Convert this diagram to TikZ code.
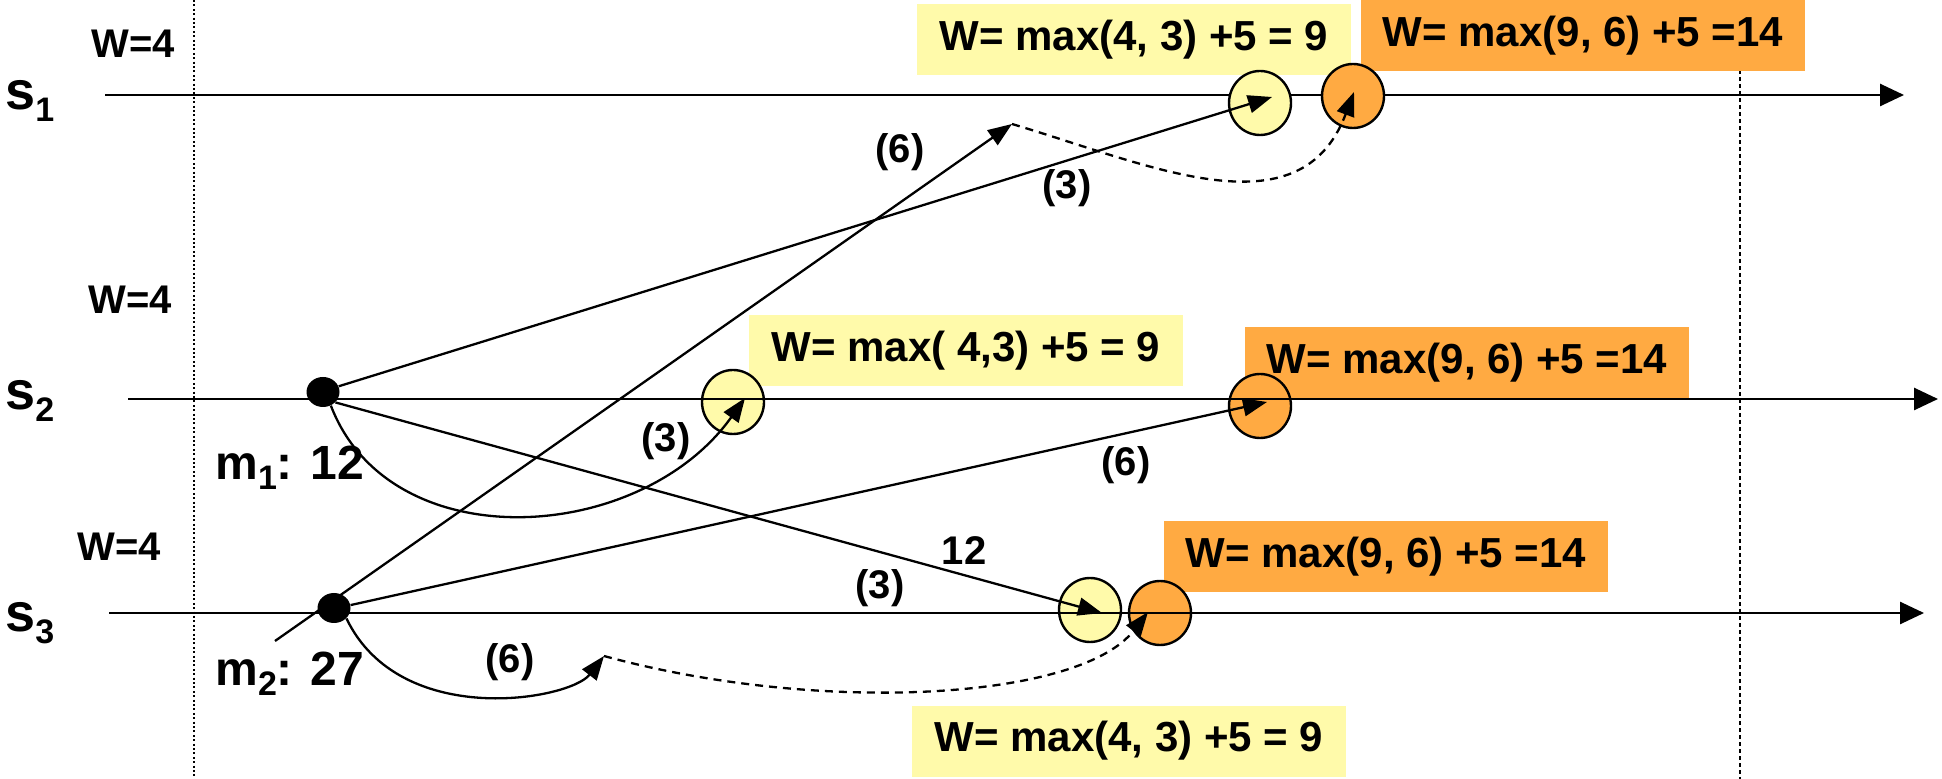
\documentclass[tikz,border=0pt]{standalone}
\usepackage{fontspec}
\setmainfont{Liberation Sans}
\usetikzlibrary{arrows.meta,shapes.geometric}
\definecolor{lyel}{RGB}{255,250,170}
\definecolor{lorg}{RGB}{255,170,66}
\newcommand\mysubs[2]{\raisebox{-#2}{\fontsize{17}{17}\selectfont #1}}
\begin{document}
\begin{tikzpicture}[x=0.5pt,y=-0.5pt,
  axis/.style={line width=1.3pt,-{Triangle[length=12pt,width=11pt]}},
  arr/.style={line width=1.15pt,-{Triangle[length=12pt,width=9pt]}},
  darr/.style={arr,dash pattern=on 4pt off 3pt},
  ybox/.style={fill=lyel,minimum width=217pt,minimum height=35.5pt,inner sep=0pt,font=\fontsize{21}{21}\selectfont\bfseries},
  obox/.style={ybox,fill=lorg,minimum width=222pt},
  ycirc/.style={ellipse,draw,line width=1.2pt,fill=lyel,minimum width=31pt,minimum height=32pt,inner sep=0pt},
  ocirc/.style={ycirc,fill=lorg},
  dot/.style={ellipse,fill=black,minimum width=16.5pt,minimum height=15pt,inner sep=0pt},
  lab/.style={font=\fontsize{20}{20}\selectfont\bfseries,inner sep=0pt},
  wlab/.style={font=\fontsize{20}{20}\selectfont\bfseries,inner sep=0pt},
  slab/.style={font=\fontsize{27}{27}\selectfont\bfseries,inner sep=0pt,anchor=base west},
  mlab/.style={font=\fontsize{24}{24}\selectfont\bfseries,inner sep=0pt,anchor=base west},
  vline/.style={line width=0.6pt,dash pattern=on 1pt off 1.2pt},
  vline2/.style={line width=0.6pt,dash pattern=on 2pt off 1.5pt}
]
\useasboundingbox (0,0) rectangle (1942,779);
% vertical dotted guides
\draw[vline] (194,0) -- (194,779);
\draw[vline2] (1740,0) -- (1740,779);
% boxes
\node[ybox] (b1) at (1134,40) {W= max(4, 3) +5 = 9};
\node[obox] (b2) at (1583,36) {W= max(9, 6) +5 =14};
\node[ybox] (b3) at (966,351) {W= max( 4,3) +5 = 9};
\node[obox] (b4) at (1467,363) {W= max(9, 6) +5 =14};
\node[obox] (b5) at (1386,557) {W= max(9, 6) +5 =14};
\node[ybox] (b6) at (1129,741) {W= max(4, 3) +5 = 9};
% axis s1 (hidden behind circles)
\coordinate (a1s) at (105,95);
\coordinate (a1e) at (1904,95);
\draw[axis] (a1s) -- (a1e);
\node[ycirc] (y1) at (1260,103) {};
\node[ocirc] (o1) at (1353,96) {};
% circles on s2, s3 (axes drawn over them)
\node[ycirc] (y2) at (733,402) {};
\node[ocirc] (o2) at (1260,406) {};
\node[ycirc] (y3) at (1090,610) {};
\node[ocirc] (o3) at (1160,613) {};
\coordinate (a2s) at (128,399);
\coordinate (a2e) at (1938,399);
\coordinate (a3s) at (109,613);
\coordinate (a3e) at (1924,613);
\draw[axis] (a2s) -- (a2e);
\draw[axis] (a3s) -- (a3e);
% message dots
\node[dot] (m1) at (323,392) {};
\node[dot] (m2) at (334,608) {};
% arrow end points
\coordinate (tipA) at (1272,97);
\coordinate (tipB) at (1012,124);
\coordinate (tipC) at (1354,92);
\coordinate (tipD) at (745,398);
\coordinate (tipE) at (1102,613);
\coordinate (tipF) at (1267,402);
\coordinate (tipG) at (604,656);
\coordinate (tipH) at (1148,612);
\coordinate (m2tail) at (275,641);
% connectors
\draw[arr] (m1.20) -- (tipA);
\draw[arr] (m2tail) -- (tipB);
\draw[darr] (tipB) .. controls (1150,165) and (1300,235) .. (tipC);
\draw[arr] (m1.-60) .. controls (390,560) and (640,545) .. (tipD);
\draw[arr] (m1.-40) -- (tipE);
\draw[arr] (m2.10) -- (tipF);
\draw[arr] (m2.-40) .. controls (400,730) and (570,700) .. (tipG);
\draw[darr] (tipG) .. controls (820,715) and (1080,700) .. (tipH);
% labels
\node[lab] (l1) at (900,152) {(6)};
\node[lab] (l2) at (1067,188) {(3)};
\node[lab] (l3) at (666,441) {(3)};
\node[lab] (l4) at (964,551) {12};
\node[lab] (l5) at (1126,465) {(6)};
\node[lab] (l6) at (880,588) {(3)};
\node[lab] (l7) at (510,662) {(6)};
\node[wlab] (w1) at (133,44) {W=4};
\node[wlab] (w2) at (130,300) {W=4};
\node[wlab] (w3) at (119,547) {W=4};
\node[slab] (s1) at (5,110) {s\mysubs{1}{6pt}};
\node[slab] (s2) at (5,410) {s\mysubs{2}{6pt}};
\node[slab] (s3) at (5,632) {s\mysubs{3}{6pt}};
\node[mlab] (n1) at (215,480) {m\mysubs{1}{5pt}: 12};
\node[mlab] (n2) at (215,685) {m\mysubs{2}{5pt}: 27};
\end{tikzpicture}
\end{document}
